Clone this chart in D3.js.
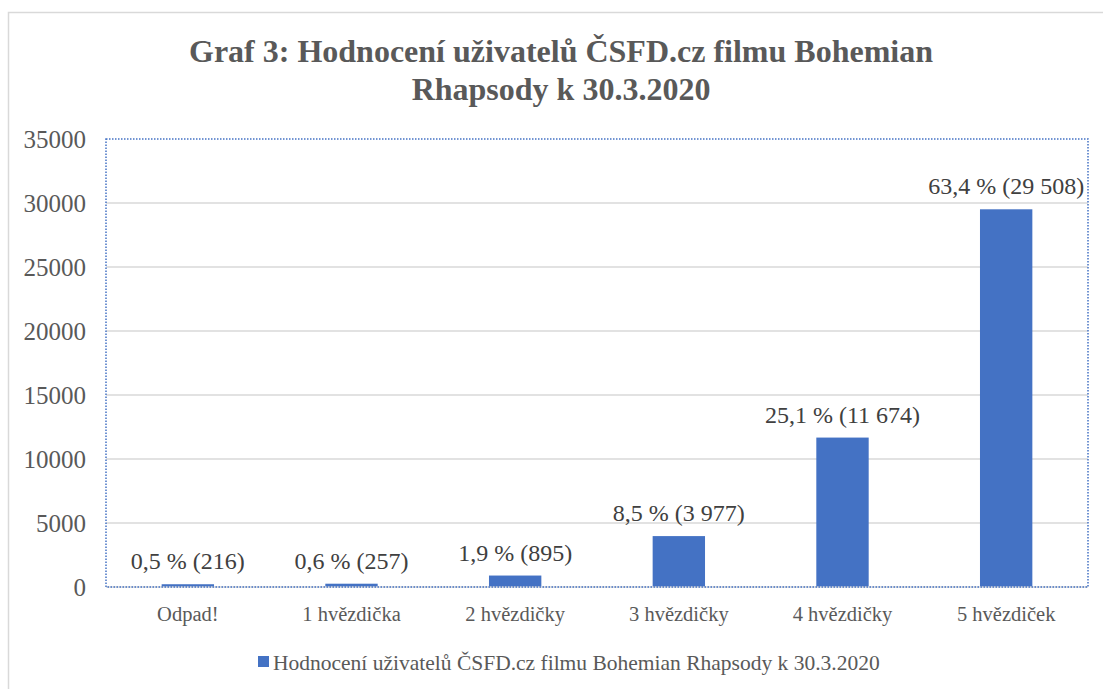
<!DOCTYPE html>
<html>
<head>
<meta charset="utf-8">
<script src="https://cdn.jsdelivr.net/npm/d3@7"></script>
<style>
  body { margin: 0; background: #fff; }
  svg { display: block; font-family: "Liberation Serif", "Times New Roman", serif; }
</style>
</head>
<body>
<div id="chart-area"></div>
<script>
var categories = ["Odpad!", "1 hvězdička", "2 hvězdičky", "3 hvězdičky", "4 hvězdičky", "5 hvězdiček"]
var counts = [216, 257, 895, 3977, 11674, 29508]
var percents = ["0,5", "0,6", "1,9", "8,5", "25,1", "63,4"]
var yTicks = [0, 5000, 10000, 15000, 20000, 25000, 30000, 35000]
var titleLines = ["Graf 3: Hodnocení uživatelů ČSFD.cz filmu Bohemian", "Rhapsody k 30.3.2020"]
var seriesName = "Hodnocení uživatelů ČSFD.cz filmu Bohemian Rhapsody k 30.3.2020"

var svgWidth = 1103, svgHeight = 689
var margin = {top: 139, right: 15, bottom: 102, left: 106}
var chartWidth = svgWidth - margin.left - margin.right
var chartHeight = svgHeight - margin.top - margin.bottom

var svg = d3.select("#chart-area").append("svg")
    .attr("width", svgWidth)
    .attr("height", svgHeight)

// outer chart frame (runs off the right/bottom of the picture)
svg.append("rect")
    .attr("x", 8.5).attr("y", 12.5)
    .attr("width", 1200).attr("height", 800)
    .attr("fill", "none")
    .attr("stroke", "#d9d9d9")
    .attr("stroke-width", 1.5)

svg.selectAll(".title")
    .data(titleLines)
    .enter().append("text")
    .attr("class", "title")
    .attr("x", 561)
    .attr("y", (d, i) => 62 + i * 38)
    .attr("text-anchor", "middle")
    .attr("font-size", "32px")
    .attr("font-weight", "bold")
    .attr("fill", "#595959")
    .text(d => d)

var chartGroup = svg.append("g")
    .attr("transform", `translate(${margin.left},${margin.top})`)

var yScale = d3.scaleLinear()
    .domain([0, 35000])
    .range([chartHeight, 0])

var xScale = d3.scaleBand()
    .domain(categories)
    .range([0, chartWidth])
    .paddingInner(0.68)
    .paddingOuter(0.34)

// gridlines
chartGroup.append("g")
    .selectAll("line")
    .data(yTicks.filter(t => t > 0 && t < 35000))
    .enter().append("line")
    .attr("x1", 0).attr("x2", chartWidth)
    .attr("y1", d => yScale(d)).attr("y2", d => yScale(d))
    .attr("stroke", "#d9d9d9")
    .attr("stroke-width", 1.5)

var leftAxis = d3.axisLeft(yScale).tickValues(yTicks).tickSize(0).tickPadding(20).tickFormat(d3.format("d"))
var yAxis = chartGroup.append("g").attr("id", "y-axis").call(leftAxis)
yAxis.select(".domain").remove()
yAxis.selectAll("text")
    .attr("font-family", "Liberation Serif")
    .attr("font-size", "25px")
    .attr("fill", "#595959")

var botAxis = d3.axisBottom(xScale).tickSize(0).tickPadding(19)
var xAxis = chartGroup.append("g").attr("id", "x-axis")
    .attr("transform", `translate(0,${chartHeight})`)
    .call(botAxis)
xAxis.select(".domain").remove()
xAxis.selectAll("text")
    .attr("font-family", "Liberation Serif")
    .attr("font-size", "20.5px")
    .attr("fill", "#595959")

// bars
chartGroup.selectAll(".bar")
    .data(counts)
    .enter().append("rect")
    .attr("class", "bar")
    .attr("x", (d, i) => xScale(categories[i]))
    .attr("width", xScale.bandwidth())
    .attr("y", d => yScale(d))
    .attr("height", d => chartHeight - yScale(d))
    .attr("fill", "#4472c4")

// baseline
chartGroup.append("line")
    .attr("x1", 0).attr("x2", chartWidth)
    .attr("y1", chartHeight).attr("y2", chartHeight)
    .attr("stroke", "#d9d9d9")
    .attr("stroke-width", 1.5)

// plot area dotted frame
chartGroup.append("rect")
    .attr("x", 0).attr("y", 0)
    .attr("width", chartWidth).attr("height", chartHeight)
    .attr("fill", "none")
    .attr("stroke", "#4472c4")
    .attr("stroke-width", 1.5)
    .attr("stroke-dasharray", "1.5,1.5")

// data labels
var fmt = d3.formatLocale({thousands: " ", grouping: [3], decimal: ",", currency: ["", ""]}).format(",d")
chartGroup.selectAll(".bar-text")
    .data(counts)
    .enter().append("text")
    .attr("class", "bar-text")
    .attr("x", (d, i) => xScale(categories[i]) + xScale.bandwidth() / 2)
    .attr("y", d => yScale(d) - 15)
    .attr("text-anchor", "middle")
    .attr("font-size", "24px")
    .attr("fill", "#404040")
    .text((d, i) => `${percents[i]} % (${fmt(d)})`)

// legend
var legend = svg.append("g").attr("transform", "translate(258,656)")
legend.append("rect")
    .attr("width", 11).attr("height", 11)
    .attr("fill", "#4472c4")
legend.append("text")
    .attr("x", 15).attr("y", 14)
    .attr("font-size", "21.5px")
    .attr("fill", "#595959")
    .text(seriesName)
</script>
</body>
</html>
